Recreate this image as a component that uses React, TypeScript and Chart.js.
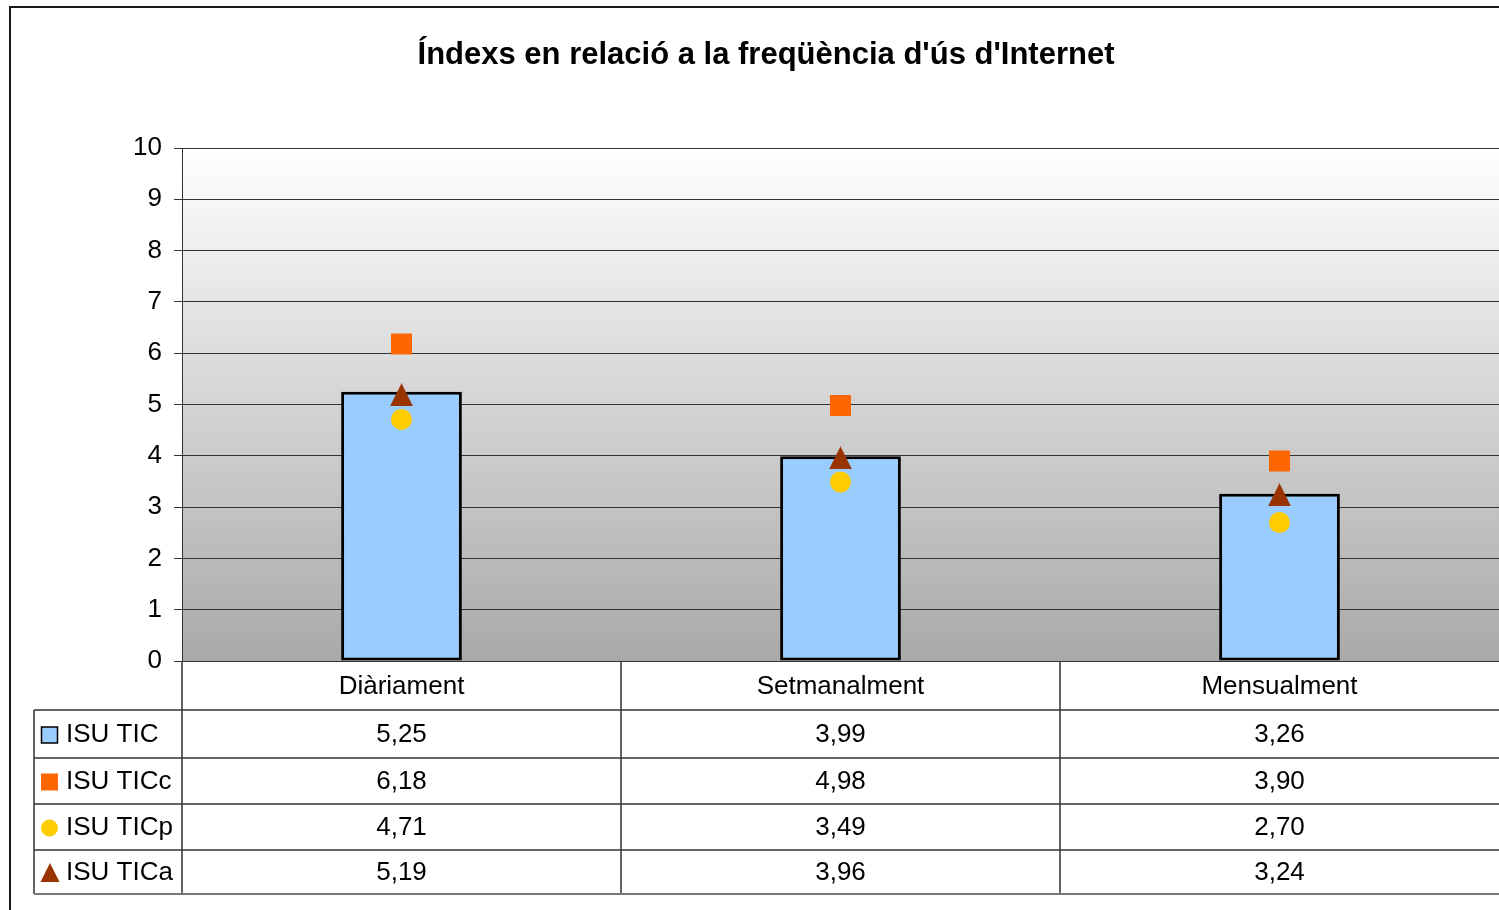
import React, { useEffect, useRef } from 'react';
import { Chart, registerables } from 'chart.js';

Chart.register(...registerables);

const titleText = "Índexs en relació a la freqüència d'ús d'Internet";
const categories = ['Diàriament', 'Setmanalment', 'Mensualment'];
const seriesLabels = ['ISU TIC', 'ISU TICc', 'ISU TICp', 'ISU TICa'];
const isuTic = [5.25, 3.99, 3.26];
const isuTicc = [6.18, 4.98, 3.9];
const isuTicp = [4.71, 3.49, 2.7];
const isuTica = [5.19, 3.96, 3.24];
const yMin = 0;
const yMax = 10;
const yStep = 1;

const FONT = "'Liberation Sans', Arial, Helvetica, sans-serif";
const COL_BAR = '#99ccff';
const COL_SQ = '#ff6600';
const COL_CIRC = '#ffcc00';
const COL_TRI = '#993300';

function makeTriangle(w: number, h: number, color: string) {
  const c = document.createElement('canvas');
  c.width = w;
  c.height = h;
  const ctx = c.getContext('2d')!;
  ctx.fillStyle = color;
  ctx.beginPath();
  ctx.moveTo(w / 2, 0);
  ctx.lineTo(w, h);
  ctx.lineTo(0, h);
  ctx.closePath();
  ctx.fill();
  return c;
}

const fmt = (v: number) => v.toFixed(2).replace('.', ',');

export default function App() {
  const ref = useRef<HTMLCanvasElement | null>(null);

  useEffect(() => {
    if (!ref.current) return;
    const tri = makeTriangle(23, 23, COL_TRI);
    const seriesValues = [isuTic, isuTicc, isuTicp, isuTica];

    const bgPlugin = {
      id: 'bg',
      beforeDraw(chart: any) {
        const { ctx, chartArea: a } = chart;
        ctx.save();
        ctx.fillStyle = '#ffffff';
        ctx.fillRect(0, 0, chart.width, chart.height);
        const g = ctx.createLinearGradient(0, a.top, 0, a.bottom);
        g.addColorStop(0, '#ffffff');
        g.addColorStop(1, '#a9a9a9');
        ctx.fillStyle = g;
        ctx.fillRect(a.left, a.top, a.right - a.left, a.bottom - a.top);
        ctx.restore();
      },
    };

    const tablePlugin = {
      id: 'table',
      afterDraw(chart: any) {
        const { ctx, chartArea: a } = chart;
        const xs = chart.scales.x;
        const W = chart.width;
        ctx.save();
        // frame
        ctx.strokeStyle = '#1a1a1a';
        ctx.lineWidth = 2;
        ctx.beginPath();
        ctx.moveTo(10, chart.height);
        ctx.lineTo(10, 7);
        ctx.lineTo(W, 7);
        ctx.stroke();

        // title
        ctx.fillStyle = '#000';
        ctx.font = `bold 31px ${FONT}`;
        ctx.textAlign = 'center';
        ctx.textBaseline = 'middle';
        ctx.fillText(titleText, 766, 55);

        const centers = categories.map((_, i) => xs.getPixelForValue(i));
        const half = (centers[1] - centers[0]) / 2;
        const bounds = [a.left, ...centers.slice(0, -1).map((c) => c + half)];

        const headerTop = a.bottom;
        const rowTops = [710, 758, 804, 850];
        const tableBottom = 894;
        const tableLeft = 34;

        ctx.strokeStyle = '#333';
        ctx.lineWidth = 1.5;
        ctx.beginPath();
        rowTops.forEach((y) => {
          ctx.moveTo(tableLeft, y);
          ctx.lineTo(W, y);
        });
        ctx.moveTo(tableLeft, rowTops[0]);
        ctx.lineTo(tableLeft, tableBottom);
        bounds.forEach((bx) => {
          ctx.moveTo(bx, headerTop);
          ctx.lineTo(bx, tableBottom);
        });
        ctx.stroke();
        ctx.strokeStyle = '#777';
        ctx.lineWidth = 2;
        ctx.beginPath();
        ctx.moveTo(tableLeft, tableBottom);
        ctx.lineTo(W, tableBottom);
        ctx.stroke();

        ctx.fillStyle = '#000';
        ctx.font = `26px ${FONT}`;
        ctx.textAlign = 'center';
        ctx.textBaseline = 'middle';
        categories.forEach((c, i) => ctx.fillText(c, centers[i], (headerTop + rowTops[0]) / 2 + 1));

        const rowBottoms = [...rowTops.slice(1), tableBottom];
        seriesLabels.forEach((lab, r) => {
          const cy = (rowTops[r] + rowBottoms[r]) / 2 + 1;
          const sx = 49.5;
          if (r === 0) {
            ctx.fillStyle = COL_BAR;
            ctx.fillRect(sx - 8, cy - 8, 16, 16);
            ctx.strokeStyle = '#000';
            ctx.lineWidth = 1.5;
            ctx.strokeRect(sx - 8, cy - 8, 16, 16);
          } else if (r === 1) {
            ctx.fillStyle = COL_SQ;
            ctx.fillRect(sx - 8.5, cy - 8.5, 17, 17);
          } else if (r === 2) {
            ctx.fillStyle = COL_CIRC;
            ctx.beginPath();
            ctx.arc(sx, cy, 8.5, 0, Math.PI * 2);
            ctx.fill();
          } else {
            ctx.fillStyle = COL_TRI;
            ctx.beginPath();
            ctx.moveTo(sx + 0.5, cy - 10);
            ctx.lineTo(sx + 10, cy + 9);
            ctx.lineTo(sx - 9, cy + 9);
            ctx.closePath();
            ctx.fill();
          }
          ctx.fillStyle = '#000';
          ctx.textAlign = 'left';
          ctx.fillText(lab, 66, cy);
          ctx.textAlign = 'center';
          seriesValues[r].forEach((v, i) => ctx.fillText(fmt(v), centers[i], cy));
        });
        ctx.restore();
      },
    };

    const chart = new Chart(ref.current, {
      type: 'bar',
      data: {
        labels: categories,
        datasets: [
          {
            type: 'line',
            label: seriesLabels[1],
            data: isuTicc,
            showLine: false,
            pointStyle: 'rect',
            pointRadius: 14.85,
            pointBorderWidth: 0,
            backgroundColor: COL_SQ,
            borderColor: COL_SQ,
            order: 0,
          } as any,
          {
            type: 'line',
            label: seriesLabels[2],
            data: isuTicp,
            showLine: false,
            pointStyle: 'circle',
            pointRadius: 10.5,
            pointBorderWidth: 0,
            backgroundColor: COL_CIRC,
            borderColor: COL_CIRC,
            order: 0,
          } as any,
          {
            type: 'line',
            label: seriesLabels[3],
            data: isuTica,
            showLine: false,
            pointStyle: tri,
            pointRadius: 12,
            pointBorderWidth: 0,
            backgroundColor: COL_TRI,
            borderColor: COL_TRI,
            order: 0,
          } as any,
          {
            type: 'bar',
            label: seriesLabels[0],
            data: isuTic,
            backgroundColor: COL_BAR,
            borderColor: '#000',
            borderWidth: 3,
            borderSkipped: false,
            categoryPercentage: 1,
            barPercentage: 0.275,
            order: 1,
          } as any,
        ],
      },
      options: {
        animation: false,
        responsive: true,
        maintainAspectRatio: false,
        layout: { autoPadding: false, padding: { top: 148, right: 0, bottom: 249, left: 0 } },
        plugins: {
          legend: { display: false },
          title: { display: false },
          tooltip: { enabled: false },
        },
        scales: {
          x: {
            display: false,
            offset: true,
          },
          y: {
            min: yMin,
            max: yMax,
            ticks: {
              stepSize: yStep,
              color: '#000',
              font: { family: FONT, size: 26 },
              padding: 12,
              callback: (v: any) => String(v),
            },
            grid: {
              color: '#333',
              lineWidth: 1,
              tickLength: 8,
              drawTicks: true,
            },
            border: { display: true, color: '#333', width: 1 },
            afterFit: (s: any) => {
              s.width = 182;
            },
          },
        },
      },
      plugins: [bgPlugin, tablePlugin],
    });
    return () => chart.destroy();
  }, []);

  return (
    <div style={{ position: 'fixed', left: 0, top: 0, width: 1499, height: 910, background: '#fff' }}>
      <canvas ref={ref} />
    </div>
  );
}
